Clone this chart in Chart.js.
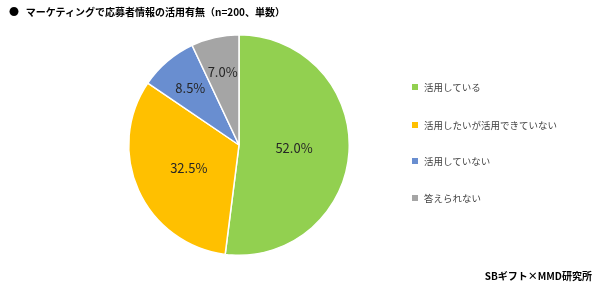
<!DOCTYPE html>
<html><head><meta charset="utf-8">
<script src="https://cdn.jsdelivr.net/npm/chart.js@4"></script>
<style>
html,body{margin:0;padding:0;background:#fff;}
#wrap{position:relative;width:600px;height:290px;overflow:hidden;font-family:"Noto Sans CJK JP","Noto Sans",sans-serif;}
#c{position:absolute;left:0;top:0;}
#title{position:absolute;left:9px;top:4px;font-size:10px;font-weight:bold;color:#000;white-space:nowrap;}
#legend{position:absolute;left:412px;top:0;font-size:9.5px;color:#404040;}
.li{position:absolute;white-space:nowrap;display:flex;align-items:center;}
.sw{width:6px;height:6px;margin-right:6px;display:inline-block;}
#src{position:absolute;right:8px;top:268px;font-size:10px;font-weight:bold;color:#000;white-space:nowrap;}
</style></head>
<body>
<div id="wrap">
<canvas id="c" width="600" height="290"></canvas>
<div id="title"></div>
<div id="legend"></div>
<div id="src">SBギフト×MMD研究所</div>
</div>
<script>
const titleText = "マーケティングで応募者情報の活用有無（n=200、単数）";
const categories = ["活用している","活用したいが活用できていない","活用していない","答えられない"];
const values = [52.0, 32.5, 8.5, 7.0];
const colors = ["#92D050","#FFC000","#698ED0","#A5A5A5"];

document.getElementById('title').innerHTML = '●&nbsp;&nbsp;&nbsp;' + titleText;

// legend
const lg = document.getElementById('legend');
const legendTops = [80, 118, 154, 191];
categories.forEach((c,i)=>{
  const d=document.createElement('div');d.className='li';d.style.top=legendTops[i]+'px';
  const s=document.createElement('span');s.className='sw';s.style.background=colors[i];
  const t=document.createElement('span');t.textContent=c;
  d.appendChild(s);d.appendChild(t);lg.appendChild(d);
});

const labelPlugin = {
  id:'lbl',
  afterDatasetsDraw(chart){
    const ctx=chart.ctx;const meta=chart.getDatasetMeta(0);
    ctx.save();
    ctx.font='13px "Noto Sans CJK JP", "Noto Sans", sans-serif';
    ctx.fillStyle='#262626';ctx.textAlign='center';ctx.textBaseline='middle';
    meta.data.forEach((arc,i)=>{
      const p=arc.getProps(['x','y','startAngle','endAngle','outerRadius'],true);
      const mid=(p.startAngle+p.endAngle)/2;
      const f = values[i] < 10 ? 0.68 : 0.5;
      const r=p.outerRadius*f;
      ctx.fillText(values[i].toFixed(1)+'%', p.x+Math.cos(mid)*r, p.y+Math.sin(mid)*r);
    });
    ctx.restore();
  }
};

new Chart(document.getElementById('c'),{
  type:'pie',
  data:{labels:categories,datasets:[{data:values,backgroundColor:colors,borderColor:'#ffffff',borderWidth:1.5}]},
  options:{
    responsive:false,animation:false,
    layout:{padding:{left:128,right:250,top:34,bottom:34}},
    plugins:{legend:{display:false},tooltip:{enabled:false},title:{display:false}}
  },
  plugins:[labelPlugin]
});
</script>
</body></html>
